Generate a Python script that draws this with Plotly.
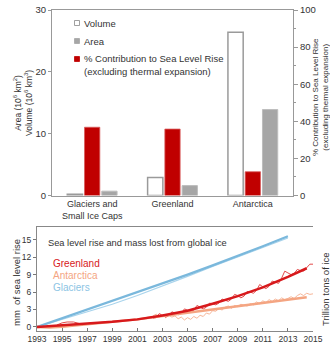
import plotly.graph_objects as go

# ---------------- data: top panel ----------------
categories = ["Glaciers and<br>Small Ice Caps", "Greenland", "Antarctica"]
volume_1e6_km3 = [0.2, 2.9, 26.4]
area_1e6_km2 = [0.7, 1.6, 13.9]
contribution_pct = [36.8, 35.8, 12.8]

# ---------------- data: bottom panel (mm of sea level rise) ----------------
glacier_trend_years = [1993, 1995, 1997, 1999, 2001, 2003, 2005, 2007, 2009, 2011, 2013]
glacier_trend_mm = [0.0, 1.5, 3.0, 4.5, 5.9, 7.4, 9.0, 10.6, 12.2, 13.9, 15.6]
glacier_obs_years = [1993, 1995, 1996, 1997, 1999, 2001, 2003, 2005, 2007, 2009, 2011, 2013]
glacier_obs_mm = [0.0, 1.3, 1.9, 2.5, 3.9, 5.4, 7.0, 8.7, 10.4, 12.0, 13.7, 15.3]

greenland_trend_years = [1993, 1995, 1997, 1999, 2001, 2003, 2005, 2007, 2009, 2011, 2013, 2014.5]
greenland_trend_mm = [0.0, 0.35, 0.6, 0.9, 1.3, 1.95, 2.8, 4.0, 5.3, 6.8, 8.6, 10.1]
greenland_early_years = [1994.6, 1995.0, 1995.4, 1995.9, 1996.2, 1996.5]
greenland_early_mm = [0.35, 0.7, 0.85, 0.85, 0.7, 0.5]
greenland_obs_years = [2002.25, 2002.5, 2002.75, 2003.0, 2003.25, 2003.5, 2003.75, 2004.0,
                       2004.25, 2004.5, 2004.75, 2005.0, 2005.25, 2005.5, 2005.75, 2006.0,
                       2006.25, 2006.5, 2006.75, 2007.0, 2007.25, 2007.5, 2007.75, 2008.0,
                       2008.25, 2008.5, 2008.75, 2009.0, 2009.25, 2009.5, 2009.75, 2010.0,
                       2010.25, 2010.5, 2010.75, 2011.0, 2011.25, 2011.5, 2011.75, 2012.0,
                       2012.25, 2012.5, 2012.75, 2013.0, 2013.25, 2013.5, 2013.75, 2014.0,
                       2014.25, 2014.5, 2014.75, 2015.0]
greenland_obs_mm = [1.5, 1.6, 2.3, 2.0, 1.7, 1.9, 2.6, 2.4,
                    2.1, 2.3, 3.1, 2.9, 2.6, 2.9, 3.7, 3.4,
                    3.1, 3.4, 4.1, 4.0, 3.8, 4.1, 4.8, 4.6,
                    4.4, 4.8, 5.6, 5.4, 5.0, 5.3, 6.1, 6.0,
                    5.8, 6.3, 7.3, 6.9, 6.6, 7.0, 7.9, 7.7,
                    7.5, 8.4, 9.6, 9.3, 9.0, 9.2, 9.9, 9.7,
                    9.6, 10.2, 10.8, 10.8]

antarctica_trend_years = [1993, 1994, 1995, 1997, 1999, 2001, 2003, 2005, 2007, 2009, 2011, 2013, 2014.5]
antarctica_trend_mm = [0.0, -0.1, 0.05, 0.45, 0.85, 1.3, 1.9, 2.45, 3.0, 3.55, 4.15, 4.65, 5.1]
antarctica_obs_years = greenland_obs_years
antarctica_obs_mm = [1.9, 2.2, 1.8, 2.1, 1.6, 2.0, 1.7, 1.9,
                     1.4, 1.7, 1.2, 1.6, 1.3, 1.8, 1.5, 2.0,
                     1.8, 2.4, 2.2, 2.8, 2.7, 3.2, 2.9, 3.4,
                     3.6, 3.2, 3.7, 3.5, 3.9, 3.7, 3.6, 4.0,
                     3.8, 4.3, 4.0, 4.5, 4.2, 4.7, 4.4, 4.8,
                     4.5, 5.0, 4.7, 4.9, 5.2, 4.9, 5.4, 5.7,
                     5.4, 5.8, 5.6, 5.7]

mm_ticks = [0, 3, 6, 9, 12, 15]
ton_ticks = [0, 1, 2, 3, 4, 5]
MM_PER_TRILLION_TONS = 2.63

W, H = 330, 348
def px(x): return x / W
def py(y): return 1 - y / H

FONT = "Liberation Sans, Arial, sans-serif"
TXT = "#333333"
AX = "#999999"

fig = go.Figure()

# ---- top panel bars ----
fig.add_bar(x=categories, y=volume_1e6_km3, xaxis="x", yaxis="y", width=0.19, offset=-0.31,
            marker=dict(color="white", line=dict(color="#9a9a9a", width=1.5)), name="Volume")
fig.add_bar(x=categories, y=contribution_pct, xaxis="x", yaxis="y2", width=0.19, offset=-0.095,
            marker=dict(color="#c00000", line=dict(color="#d85a5a", width=0.8)),
            name="% Contribution to Sea Level Rise")
fig.add_bar(x=categories, y=area_1e6_km2, xaxis="x", yaxis="y", width=0.19, offset=0.12,
            marker=dict(color="#a6a6a6", line=dict(color="#bdbdbd", width=1)), name="Area")

# ---- bottom panel lines ----
def line(x, y, color, width, name):
    fig.add_scatter(x=x, y=y, xaxis="x2", yaxis="y3", mode="lines",
                    line=dict(color=color, width=width), name=name)

line(glacier_obs_years, glacier_obs_mm, "#a9d4ec", 1.2, "Glaciers obs")
line(glacier_trend_years, glacier_trend_mm, "#7ab8dc", 2.2, "Glaciers")
line(antarctica_obs_years, antarctica_obs_mm, "#f7b699", 1.0, "Antarctica obs")
line(greenland_early_years, greenland_early_mm, "#e34a4a", 1.0, "Greenland early")
line(greenland_obs_years, greenland_obs_mm, "#e34a4a", 1.0, "Greenland obs")
line(antarctica_trend_years, antarctica_trend_mm, "#f4a582", 2.5, "Antarctica")
line(greenland_trend_years, greenland_trend_mm, "#d7191c", 2.5, "Greenland")

tickfont = dict(family=FONT, size=9.5, color=TXT)
btickfont = dict(family=FONT, size=8.5, color=TXT)
common = dict(automargin=False, showgrid=False, zeroline=False)

fig.update_layout(
    template="none",
    width=W, height=H, margin=dict(l=0, r=0, t=0, b=0, pad=0, autoexpand=False),
    paper_bgcolor="white", plot_bgcolor="white",
    showlegend=False, barmode="overlay",
    font=dict(family=FONT, color=TXT),
    xaxis=dict(domain=[px(52), px(293)], anchor="y", type="category",
               showline=True, linecolor=AX, linewidth=1, mirror=True,
               ticks="", tickfont=dict(family=FONT, size=9, color=TXT), **common),
    yaxis=dict(domain=[py(195.5), py(10)], anchor="x", range=[0, 30],
               tickvals=[0, 10, 20, 30], ticks="outside", ticklen=3, tickcolor=AX,
               ticklabeloverflow="allow",
               showline=True, linecolor=AX, linewidth=1, tickfont=tickfont, **common),
    yaxis2=dict(overlaying="y", side="right", anchor="x", range=[0, 100],
                tickvals=[0, 20, 40, 60, 80, 100], ticks="outside", ticklen=4, tickcolor=AX,
                ticklabeloverflow="allow",
                minor=dict(dtick=10, ticks="outside", ticklen=2, tickcolor=AX),
                showline=True, linecolor=AX, linewidth=1, tickfont=tickfont, **common),
    xaxis2=dict(domain=[px(37), px(313)], anchor="y3", range=[1993, 2015],
                tick0=1993, dtick=2, ticks="inside", ticklen=3, tickcolor="#777",
                ticklabeloverflow="allow",
                showline=True, linecolor="#888", linewidth=1, mirror=True,
                tickfont=btickfont, **common),
    yaxis3=dict(domain=[py(331), py(227)], anchor="x2", range=[-0.7, 17.2],
                tickvals=mm_ticks, ticks="outside", ticklen=3, tickcolor="#777",
                showline=True, linecolor="#888", linewidth=1, tickfont=btickfont, **common),
    yaxis4=dict(overlaying="y3", side="right", anchor="x2",
                range=[-0.7 / MM_PER_TRILLION_TONS, 17.2 / MM_PER_TRILLION_TONS],
                tickvals=ton_ticks, ticks="outside", ticklen=3, tickcolor="#777",
                showline=True, linecolor="#888", linewidth=1, tickfont=btickfont, **common),
)

ann = []
def text(x, y, s, size, color=TXT, angle=0, xanchor="left", yanchor="middle", align="left"):
    ann.append(dict(x=px(x), y=py(y), xref="paper", yref="paper", text=s, showarrow=False,
                    textangle=angle, xanchor=xanchor, yanchor=yanchor, align=align,
                    font=dict(family=FONT, size=size, color=color)))

# top legend
text(82, 23, "Volume", 9.5)
text(82, 41, "Area", 9.5)
text(82, 59, "% Contribution to Sea Level Rise", 9.5)
text(82, 72, "(excluding thermal expansion)", 9.5)
# top axis titles
text(23, 103, "Area (10<sup>6</sup> km<sup>2</sup>)<br>Volume (10<sup>6</sup> km<sup>3</sup>)", 8.5,
     angle=-90, xanchor="center", align="center")
text(320, 97, "% Contribution to Sea Level Rise<br>(excluding thermal expansion)", 8,
     angle=-90, xanchor="center", align="center")
# bottom panel texts
text(46, 243, "Sea level rise and mass lost from global ice", 9.3)
text(51, 263, "Greenland", 10, color="#d7191c")
text(51, 275, "Antarctica", 10, color="#f4a582")
text(51, 287, "Glaciers", 10, color="#8cc4e4")
text(16, 283, "mm  of sea level rise", 9.5, angle=-90, xanchor="center", align="center")
text(325, 289, "Trillion tons of ice", 9.5, angle=-90, xanchor="center", align="center")
fig.update_layout(annotations=ann)

# legend swatches
shapes = []
def swatch(x, y, fill, line):
    shapes.append(dict(type="rect", xref="paper", yref="paper",
                       x0=px(x - 2.5), x1=px(x + 2.5), y0=py(y + 2.5), y1=py(y - 2.5),
                       fillcolor=fill, line=dict(color=line, width=0.8)))
swatch(77, 23, "white", "#888888")
swatch(77, 41, "#a6a6a6", "#a6a6a6")
swatch(77, 59, "#c00000", "#c00000")
fig.update_layout(shapes=shapes)

# remove the page's default body margin so the 330x348 figure fills the window exactly
fig.write_html("out.html", config={"displayModeBar": False},
               post_script="document.body.style.margin='0';document.body.style.overflow='hidden';")
